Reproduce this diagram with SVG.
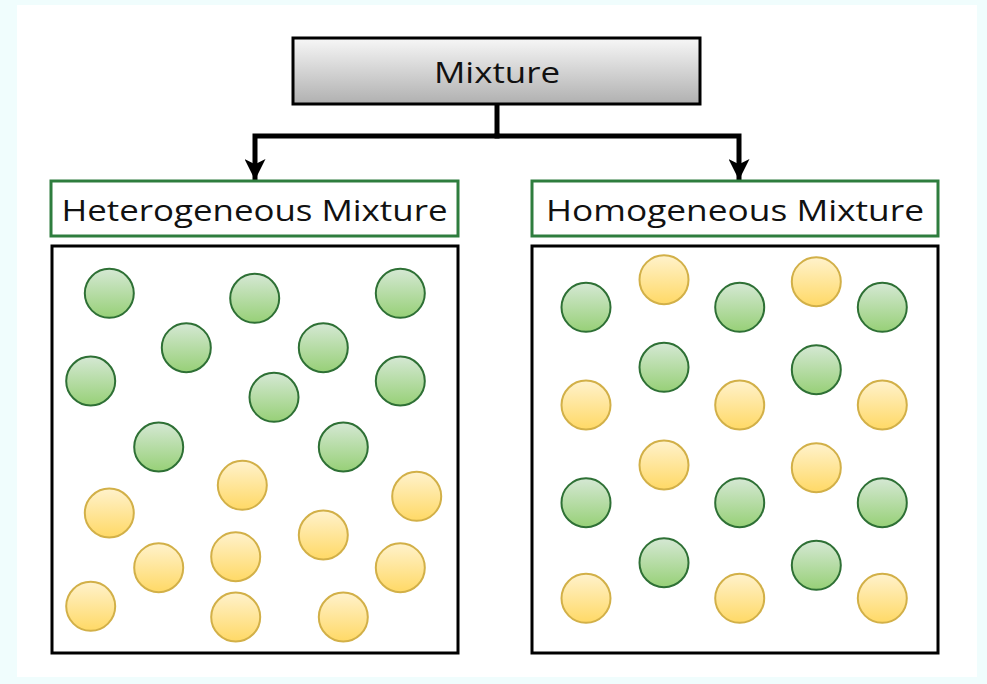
<svg xmlns="http://www.w3.org/2000/svg" width="987" height="684" viewBox="0 0 987 684">
<defs>
<linearGradient id="gTop" x1="0" y1="0" x2="0" y2="1"><stop offset="0" stop-color="#f7f7f7"/><stop offset="1" stop-color="#b0b0b0"/></linearGradient>
<linearGradient id="gGreen" x1="0" y1="0" x2="0" y2="1"><stop offset="0" stop-color="#d5e8d4"/><stop offset="1" stop-color="#97d077"/></linearGradient>
<linearGradient id="gYellow" x1="0" y1="0" x2="0" y2="1"><stop offset="0" stop-color="#fff2cc"/><stop offset="1" stop-color="#ffd966"/></linearGradient>
<marker id="arr" viewBox="0 0 10 10" refX="10" refY="5" markerWidth="4.4" markerHeight="4.2" orient="auto" markerUnits="strokeWidth"><path d="M0,0 L10,5 L0,10 L2.5,5 Z" fill="#000"/></marker>
</defs>
<style>
.lbl{font-family:"Open Sans","Noto Sans","Liberation Sans",sans-serif;font-size:30px;fill:#111;text-anchor:middle;dominant-baseline:central}
.g{fill:url(#gGreen);stroke:#2e7035;stroke-width:2}
.y{fill:url(#gYellow);stroke:#d2b048;stroke-width:2}
.box{fill:#fff;stroke:#000;stroke-width:3}
.gbox{fill:#fff;stroke:#2e7d3e;stroke-width:3}
.conn{fill:none;stroke:#000;stroke-width:5}
</style>
<rect x="0" y="0" width="987" height="684" fill="#f0fdfd"/>
<rect x="17" y="5" width="960" height="672" fill="#fff"/>

<g id="connectors">
<path class="conn" d="M497,104 V136"/>
<path class="conn" d="M499.5,136 H255 V180" marker-end="url(#arr)"/>
<path class="conn" d="M494.5,136 H739 V180" marker-end="url(#arr)"/>
</g>

<g id="mixture">
<rect x="293" y="38" width="407" height="66" fill="url(#gTop)" stroke="#000" stroke-width="3"/>
<text class="lbl" x="497" y="71" textLength="126" lengthAdjust="spacingAndGlyphs">Mixture</text>
</g>

<g id="heterogeneous-label">
<rect class="gbox" x="51" y="181" width="407" height="55"/>
<text class="lbl" x="254.5" y="209" textLength="386" lengthAdjust="spacingAndGlyphs">Heterogeneous Mixture</text>
</g>

<g id="homogeneous-label">
<rect class="gbox" x="532" y="181" width="406" height="55"/>
<text class="lbl" x="735" y="209" textLength="378" lengthAdjust="spacingAndGlyphs">Homogeneous Mixture</text>
</g>

<g id="heterogeneous-box">
<rect class="box" x="52" y="246" width="406" height="407"/>
<circle class="g" cx="109.3" cy="293.3" r="24.5"/>
<circle class="g" cx="254.7" cy="298.3" r="24.5"/>
<circle class="g" cx="400.3" cy="293.3" r="24.5"/>
<circle class="g" cx="186.3" cy="347.7" r="24.5"/>
<circle class="g" cx="323.3" cy="347.7" r="24.5"/>
<circle class="g" cx="90.7" cy="381" r="24.5"/>
<circle class="g" cx="274" cy="397.3" r="24.5"/>
<circle class="g" cx="400.3" cy="381" r="24.5"/>
<circle class="g" cx="158.7" cy="447" r="24.5"/>
<circle class="g" cx="343.3" cy="447" r="24.5"/>
<circle class="y" cx="242.3" cy="485.3" r="24.5"/>
<circle class="y" cx="416.7" cy="496.3" r="24.5"/>
<circle class="y" cx="109.3" cy="513" r="24.5"/>
<circle class="y" cx="323.3" cy="535" r="24.5"/>
<circle class="y" cx="158.7" cy="567.7" r="24.5"/>
<circle class="y" cx="235.7" cy="556.7" r="24.5"/>
<circle class="y" cx="400.3" cy="567.7" r="24.5"/>
<circle class="y" cx="90.7" cy="606.3" r="24.5"/>
<circle class="y" cx="235.7" cy="617" r="24.5"/>
<circle class="y" cx="343.3" cy="617" r="24.5"/>
</g>

<g id="homogeneous-box">
<rect class="box" x="532" y="246" width="406" height="407"/>
<circle class="g" cx="586" cy="307.3" r="24.5"/>
<circle class="y" cx="664" cy="279.7" r="24.5"/>
<circle class="g" cx="739.7" cy="307.3" r="24.5"/>
<circle class="y" cx="816.3" cy="281.7" r="24.5"/>
<circle class="g" cx="882.3" cy="307.3" r="24.5"/>
<circle class="g" cx="664" cy="367.3" r="24.5"/>
<circle class="g" cx="816.3" cy="369.7" r="24.5"/>
<circle class="y" cx="586" cy="405" r="24.5"/>
<circle class="y" cx="739.7" cy="405" r="24.5"/>
<circle class="y" cx="882.3" cy="405" r="24.5"/>
<circle class="y" cx="664" cy="465" r="24.5"/>
<circle class="y" cx="816.3" cy="467.7" r="24.5"/>
<circle class="g" cx="586" cy="502.7" r="24.5"/>
<circle class="g" cx="739.7" cy="502.7" r="24.5"/>
<circle class="g" cx="882.3" cy="502.7" r="24.5"/>
<circle class="g" cx="664" cy="562.7" r="24.5"/>
<circle class="g" cx="816.3" cy="565.3" r="24.5"/>
<circle class="y" cx="586" cy="598.3" r="24.5"/>
<circle class="y" cx="739.7" cy="598.3" r="24.5"/>
<circle class="y" cx="882.3" cy="598.3" r="24.5"/>
</g>
</svg>
